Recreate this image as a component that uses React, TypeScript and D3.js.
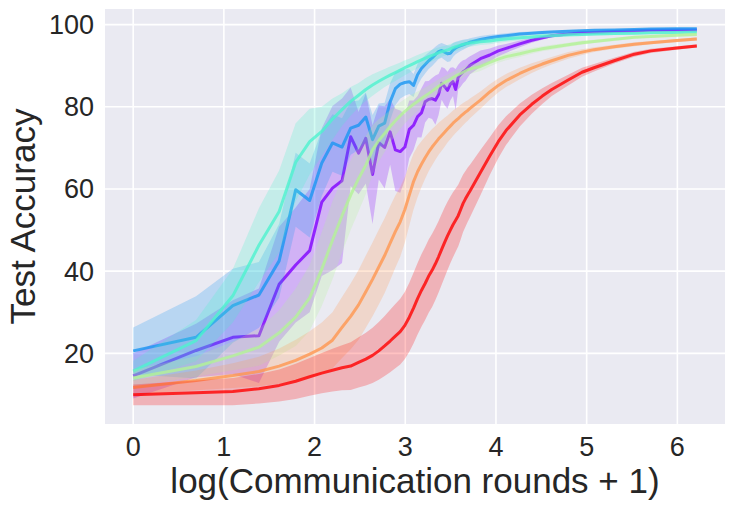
import * as React from "react";
import * as d3 from "d3";

// communication rounds at which accuracy was logged
const ROUNDS = [
  0, 1, 2, 3, 4, 5, 6, 7, 8, 9, 10, 11, 12, 13, 14, 15, 16, 17, 18, 19, 20,
  21, 22, 23, 24, 25, 26, 27, 28, 29, 30, 31, 32, 33, 34, 35, 36, 37, 38, 39,
  40, 45, 50, 55, 60, 70, 80, 90, 100, 120, 140, 160, 200, 250, 300, 400, 499,
];

const PURPLE_MEAN = [
  14.5, 20.7, 23.9, 24.3, 36.8, 41.5, 45.0, 56.8, 60.2, 62.0,
  72.7, 68.7, 72.3, 63.5, 71.3, 70.1, 73.9, 69.5, 69.1, 70.2,
  74.5, 75.5, 77.6, 78.5, 81.2, 81.8, 82.0, 81.6, 83.0, 85.7,
  84.9, 84.0, 85.5, 86.1, 84.2, 87.2, 87.9, 88.5, 88.9, 89.5,
  90.1, 91.7, 92.6, 93.6, 94.2, 95.3, 96.2, 96.8, 97.3, 97.7,
  98.0, 98.1, 98.3, 98.5, 98.6, 98.7, 98.7,
];
const PURPLE_SD = [
  5.5, 6.5, 9.0, 11.5, 14.0, 14.0, 15.0, 18.0, 20.0, 20.0,
  12.0, 10.0, 11.0, 12.0, 9.0, 10.0, 8.0, 10.0, 10.0, 8.0,
  7.0, 6.0, 5.0, 6.0, 5.0, 4.5, 5.0, 6.0, 5.0, 4.0,
  4.5, 4.5, 4.0, 3.5, 5.0, 3.0, 3.0, 2.8, 2.6, 2.4,
  2.2, 2.0, 1.6, 1.3, 1.1, 0.8, 0.6, 0.5, 0.4, 0.35,
  0.3, 0.3, 0.25, 0.2, 0.2, 0.2, 0.2,
];

const BLUE_MEAN = [
  20.6, 23.9, 31.6, 34.2, 42.5, 59.8, 57.2, 66.3, 71.2, 70.2,
  74.8, 75.5, 77.5, 72.0, 75.3, 76.0, 81.2, 84.4, 85.5, 85.9,
  86.1, 85.2, 87.8, 89.3, 90.3, 91.2, 91.9, 92.7, 93.4, 93.7,
  93.3, 92.9, 93.0, 93.8, 94.3, 94.6, 94.9, 95.1, 95.3, 95.5,
  95.7, 96.4, 96.8, 97.1, 97.3, 97.7, 97.9, 98.1, 98.2, 98.4,
  98.5, 98.6, 98.7, 98.8, 98.9, 99.0, 99.0,
];
const BLUE_SD = [
  5.7, 10.0, 9.0, 8.0, 9.0, 9.0, 9.0, 8.0, 7.0, 7.0,
  6.5, 6.0, 6.0, 6.0, 5.5, 5.0, 4.5, 4.0, 3.5, 3.2,
  3.0, 2.8, 2.6, 2.4, 2.2, 2.0, 2.0, 1.9, 1.8, 1.8,
  1.9, 2.0, 1.9, 1.7, 1.5, 1.4, 1.3, 1.2, 1.1, 1.0,
  1.0, 0.8, 0.7, 0.6, 0.6, 0.5, 0.4, 0.4, 0.35, 0.3,
  0.3, 0.25, 0.25, 0.2, 0.2, 0.2, 0.2,
];

const CYAN_MEAN = [
  15.7, 23.1, 34.0, 46.3, 54.5, 66.5, 71.5, 74.0, 77.0, 79.3,
  81.3, 82.8, 84.2, 85.3, 86.2, 87.0, 87.7, 88.3, 88.9, 89.5,
  90.0, 90.5, 91.0, 91.4, 91.8, 92.2, 92.5, 92.8, 93.1, 93.4,
  93.6, 93.8, 94.1, 94.4, 94.6, 94.8, 95.0, 95.2, 95.3, 95.4,
  95.5, 95.8, 96.0, 96.3, 96.5, 96.8, 97.0, 97.2, 97.3, 97.5,
  97.6, 97.7, 97.8, 97.9, 98.0, 98.1, 98.2,
];
const CYAN_SD = [
  2.5, 5.0, 6.5, 9.0, 10.0, 9.5, 8.0, 6.0, 5.0, 4.0,
  3.5, 3.0, 2.8, 2.6, 2.4, 2.2, 2.1, 2.0, 1.9, 1.8,
  1.7, 1.65, 1.6, 1.55, 1.5, 1.45, 1.4, 1.35, 1.3, 1.25,
  1.2, 1.2, 1.15, 1.1, 1.1, 1.05, 1.0, 1.0, 0.95, 0.9,
  0.9, 0.8, 0.8, 0.7, 0.7, 0.6, 0.5, 0.5, 0.45, 0.4,
  0.4, 0.35, 0.35, 0.3, 0.3, 0.3, 0.3,
];

const GREEN_MEAN = [
  14.0, 16.8, 19.4, 21.5, 25.0, 28.8, 33.5, 40.5, 47.5, 53.5,
  58.5, 62.5, 65.8, 69.5, 71.8, 73.5, 75.2, 76.6, 77.8, 78.9,
  79.8, 80.6, 81.3, 82.0, 82.6, 83.2, 83.8, 84.4, 85.0, 85.5,
  85.9, 86.3, 86.7, 87.1, 87.5, 87.8, 88.1, 88.4, 88.7, 89.0,
  89.2, 89.8, 90.8, 91.6, 92.2, 92.9, 93.6, 94.1, 94.5, 95.1,
  95.6, 95.9, 96.4, 96.9, 97.1, 97.4, 97.6,
];
const GREEN_SD = [
  2.0, 2.5, 3.5, 4.5, 5.5, 7.0, 8.0, 9.0, 9.5, 9.0,
  8.5, 8.0, 7.0, 6.0, 5.2, 4.5, 4.0, 3.6, 3.3, 3.0,
  2.8, 2.6, 2.4, 2.2, 2.1, 2.0, 1.9, 1.8, 1.7, 1.6,
  1.6, 1.5, 1.5, 1.4, 1.4, 1.3, 1.3, 1.3, 1.2, 1.2,
  1.2, 1.1, 1.0, 0.9, 0.9, 0.8, 0.7, 0.6, 0.6, 0.5,
  0.5, 0.4, 0.4, 0.35, 0.3, 0.3, 0.3,
];

const ORANGE_MEAN = [
  11.7, 13.4, 14.6, 15.6, 16.9, 18.3, 19.8, 21.3, 23.2, 26.3,
  29.0, 31.8, 35.0, 38.0, 41.0, 43.8, 46.8, 49.6, 52.0, 55.0,
  58.5, 61.8, 64.2, 66.0, 67.6, 69.0, 70.2, 71.2, 72.2, 73.0,
  73.8, 74.6, 75.3, 76.0, 76.6, 77.1, 77.7, 78.2, 78.7, 79.1,
  79.6, 81.6, 83.6, 85.2, 86.4, 88.1, 89.4, 90.4, 91.2, 92.5,
  93.3, 93.9, 94.6, 95.2, 95.6, 96.1, 96.5,
];
const ORANGE_SD = [
  1.8, 2.4, 3.0, 3.6, 4.3, 5.0, 5.6, 6.2, 6.8, 7.4,
  8.0, 8.5, 8.8, 9.0, 9.1, 9.1, 9.0, 8.8, 8.5, 8.0,
  7.4, 6.8, 6.2, 5.6, 5.1, 4.7, 4.4, 4.1, 3.9, 3.7,
  3.5, 3.3, 3.2, 3.1, 3.0, 2.9, 2.8, 2.7, 2.6, 2.5,
  2.4, 2.1, 1.9, 1.7, 1.6, 1.4, 1.2, 1.0, 0.9, 0.8,
  0.7, 0.6, 0.5, 0.5, 0.4, 0.4, 0.4,
];

const RED_MEAN = [
  9.9, 10.4, 10.7, 11.4, 12.2, 13.2, 14.3, 15.2, 15.9, 16.5,
  16.9, 17.8, 18.6, 19.5, 20.6, 21.8, 23.0, 24.2, 25.3, 26.8,
  28.8, 31.0, 33.3, 35.3, 37.0, 38.8, 40.2, 41.8, 43.5, 45.3,
  47.0, 48.6, 50.0, 51.3, 52.4, 53.5, 55.0, 56.5, 57.6, 58.6,
  59.5, 64.0, 68.0, 71.5, 74.2, 78.0, 80.6, 82.6, 84.2, 86.5,
  88.4, 89.5, 91.2, 92.8, 93.6, 94.3, 94.8,
];
const RED_SD = [
  2.5, 3.0, 3.3, 3.6, 3.9, 4.3, 4.6, 4.9, 5.2, 5.5,
  5.8, 6.1, 6.4, 6.7, 7.0, 7.3, 7.6, 7.8, 8.0, 8.2,
  8.4, 8.6, 8.7, 8.8, 8.9, 8.9, 8.9, 8.8, 8.7, 8.6,
  8.5, 8.3, 8.1, 7.9, 7.7, 7.5, 7.3, 7.0, 6.8, 6.6,
  6.4, 5.5, 4.6, 4.0, 3.5, 2.8, 2.3, 1.9, 1.6, 1.3,
  1.1, 0.9, 0.7, 0.6, 0.5, 0.4, 0.4,
];

const MEANS = [PURPLE_MEAN, BLUE_MEAN, CYAN_MEAN, GREEN_MEAN, ORANGE_MEAN, RED_MEAN];
const SDS = [PURPLE_SD, BLUE_SD, CYAN_SD, GREEN_SD, ORANGE_SD, RED_SD];

const X_TICKS = [0, 1, 2, 3, 4, 5, 6];
const Y_TICKS = [20, 40, 60, 80, 100];

const W = 734;
const H = 509;
const M = { left: 105, right: 9, top: 9, bottom: 85 };
const FONT = "'Liberation Sans', Arial, sans-serif";

interface Pt {
  x: number;
  m: number;
  lo: number;
  hi: number;
}

export default function App() {
  const xs = ROUNDS.map((r) => Math.log(r + 1));
  const series: Pt[][] = MEANS.map((mean, k) =>
    mean.map((m, i) => ({ x: xs[i], m, lo: m - SDS[k][i], hi: m + SDS[k][i] }))
  );

  // matplotlib style 5% margins
  const [x0, x1] = d3.extent(xs) as [number, number];
  const xPad = (x1 - x0) * 0.05;
  const yMin = d3.min(series.flat(), (d) => d.lo) as number;
  const yMax = d3.max(series.flat(), (d) => d.hi) as number;
  const yPad = (yMax - yMin) * 0.05;

  const x = d3
    .scaleLinear()
    .domain([x0 - xPad, x1 + xPad])
    .range([M.left, W - M.right]);
  const y = d3
    .scaleLinear()
    .domain([yMin - yPad, yMax + yPad])
    .range([H - M.bottom, M.top]);

  // matplotlib "rainbow" colormap, 6 samples
  const colors = [0, 0.2, 0.4, 0.6, 0.8, 1].map((t) => {
    const r = Math.min(1, Math.abs(2 * t - 0.5));
    const g = Math.sin(t * Math.PI);
    const b = Math.cos((t * Math.PI) / 2);
    return d3.rgb(r * 255, g * 255, b * 255).formatHex();
  });

  const line = d3
    .line<Pt>()
    .x((d) => x(d.x))
    .y((d) => y(d.m));
  const band = d3
    .area<Pt>()
    .x((d) => x(d.x))
    .y0((d) => y(d.lo))
    .y1((d) => y(d.hi));

  const pw = W - M.left - M.right;
  const ph = H - M.top - M.bottom;

  return (
    <svg
      width={W}
      height={H}
      style={{ position: "absolute", left: 0, top: 0, background: "#fff" }}
      fontFamily={FONT}
    >
      <defs>
        <clipPath id="plot">
          <rect x={M.left} y={M.top} width={pw} height={ph} />
        </clipPath>
      </defs>
      <rect x={M.left} y={M.top} width={pw} height={ph} fill="#eaeaf2" />
      {X_TICKS.map((t) => (
        <line
          key={"gx" + t}
          x1={x(t)}
          x2={x(t)}
          y1={M.top}
          y2={H - M.bottom}
          stroke="#fff"
          strokeWidth={1.6}
        />
      ))}
      {Y_TICKS.map((t) => (
        <line
          key={"gy" + t}
          x1={M.left}
          x2={W - M.right}
          y1={y(t)}
          y2={y(t)}
          stroke="#fff"
          strokeWidth={1.6}
        />
      ))}
      <g clipPath="url(#plot)">
        {series.map((s, k) => (
          <g key={k}>
            <path d={band(s) ?? ""} fill={colors[k]} fillOpacity={0.24} stroke="none" />
            <path
              d={line(s) ?? ""}
              fill="none"
              stroke={colors[k]}
              strokeOpacity={0.8}
              strokeWidth={3}
              strokeLinejoin="round"
            />
          </g>
        ))}
      </g>
      {X_TICKS.map((t) => (
        <text
          key={"tx" + t}
          x={x(t)}
          y={H - M.bottom + 32}
          textAnchor="middle"
          fontSize={27}
          fill="#262626"
        >
          {t}
        </text>
      ))}
      {Y_TICKS.map((t) => (
        <text
          key={"ty" + t}
          x={M.left - 11}
          y={y(t)}
          dy="0.35em"
          textAnchor="end"
          fontSize={27}
          fill="#262626"
        >
          {t}
        </text>
      ))}
      <text
        x={M.left + pw / 2}
        y={493}
        textAnchor="middle"
        fontSize={35}
        fill="#262626"
      >
        log(Communication rounds + 1)
      </text>
      <text
        transform={`translate(35, ${M.top + ph / 2}) rotate(-90)`}
        textAnchor="middle"
        fontSize={35}
        fill="#262626"
      >
        Test Accuracy
      </text>
    </svg>
  );
}
